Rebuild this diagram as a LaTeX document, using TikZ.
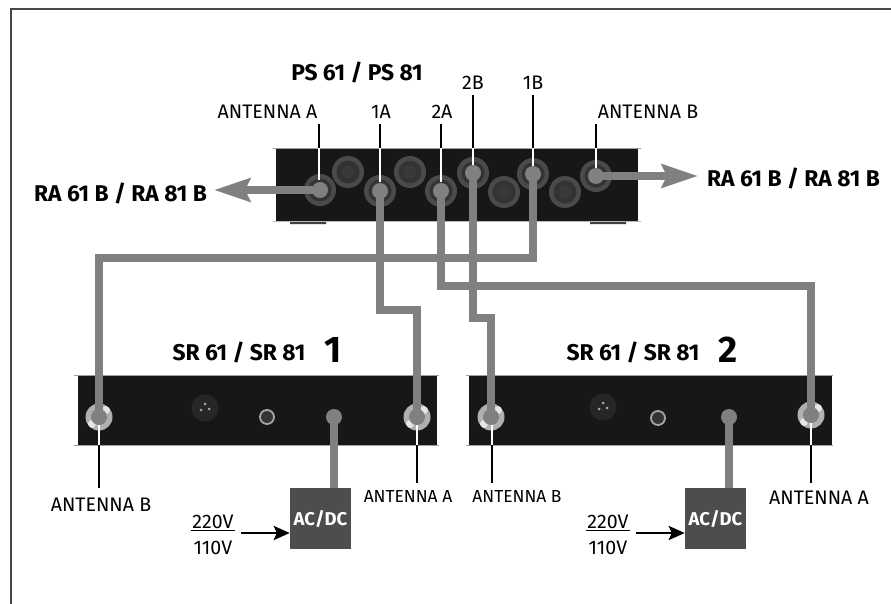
\documentclass[tikz,border=0pt]{standalone}
\usepackage{fontspec}
\setmainfont{Fira Sans}
\usetikzlibrary{arrows.meta}
\definecolor{wire}{HTML}{808080}
\definecolor{photo}{HTML}{171717}
\definecolor{acbox}{HTML}{4D4D4D}
\tikzset{
  x=1pt,y=-1pt,
  lab/.style={inner sep=0pt,font=\fontsize{19.6}{22}\selectfont},
  labs/.style={inner sep=0pt,font=\fontsize{17.4}{20}\selectfont},
  ttl/.style={inner sep=0pt,font=\fontsize{22.8}{25}\selectfont\bfseries},
  num/.style={inner sep=0pt,font=\fontsize{37}{40}\selectfont\bfseries},
  wireline/.style={draw=wire,line width=8.8pt,line join=miter},
  wirearrow/.style={draw=wire,line width=8.8pt,-{Stealth[length=36pt,width=23pt,inset=5pt]}},
  blackl/.style={draw=black,line width=2.8pt},
  whitel/.style={draw=white,line width=2.2pt},
  pad/.style={circle,fill=wire,minimum size=16pt,inner sep=0pt},
  casing/.style={fill=photo},
  edge/.style={draw=gray!75,line width=1pt},
  foot/.style={fill=gray!50!black},
  portouter/.style={circle,fill=gray!62,minimum size=27pt,inner sep=0pt,path picture={\fill[gray!20] ([shift={(-7pt,-7pt)}]path picture bounding box.center) circle (4pt);\fill[gray!20] ([shift={(7pt,7pt)}]path picture bounding box.center) circle (4pt);}},
  bnc/.style={circle,fill=gray!58!black,minimum size=32pt,inner sep=0pt,path picture={\fill[black!80] (path picture bounding box.center) circle (11.5pt);\fill[gray!45!black] (path picture bounding box.center) circle (6.5pt);}},
  xlr/.style={circle,fill=black!85,draw=gray!30!black,line width=1.2pt,minimum size=26pt,inner sep=0pt,path picture={\fill[gray!70] ([shift={(-4pt,-2pt)}]path picture bounding box.center) circle (1.5pt);\fill[gray!70] ([shift={(4pt,-1pt)}]path picture bounding box.center) circle (1.5pt);\fill[gray!70] ([shift={(0pt,4pt)}]path picture bounding box.center) circle (1.5pt);}},
  jack/.style={circle,fill=black!80,draw=gray!70,line width=1.8pt,minimum size=14pt,inner sep=0pt},
  dcpt/.style={inner sep=0pt,minimum size=1pt},
  acdc/.style={fill=acbox,minimum size=61pt,inner sep=0pt,text=white,font=\fontsize{18.5}{20}\selectfont\bfseries},
  pwr/.style={draw=black,line width=2.8pt,-{Stealth[length=16pt,width=14pt,inset=3pt]}},
}
\begin{document}
\begin{tikzpicture}
\useasboundingbox (0,0) rectangle (891,604);
\fill[white] (0,0) rectangle (891,604);
% frame
\draw[black!72,line width=2pt] (11,604) -- (11,9) -- (891,9);

% rear panels
\fill[foot] (290,220) rectangle (326,224) (590,220) rectangle (626,224);
\path[casing] (276,149) rectangle (638,222);
\draw[edge] (273,148.5) -- (641,148.5);
\draw[gray!55,line width=.8pt] (273,221.5) -- (641,221.5);
\path[casing] (78,375) rectangle (437,445);
\draw[edge] (74,375.5) -- (439,375.5) (74,445) -- (439,445);
\path[casing] (469,375) rectangle (832,445);
\draw[edge] (466,375.5) -- (833,375.5) (466,445) -- (833,445);

% PS connectors
\node[bnc] (k1) at (348,172) {};
\node[bnc] (k2) at (410,172) {};
\node[bnc] (k3) at (504,192) {};
\node[bnc] (k4) at (565,192) {};
\node[bnc] (pa) at (320,190) {};
\node[bnc] (p1a) at (380,191) {};
\node[bnc] (p2a) at (441,191) {};
\node[bnc] (p2b) at (473,173) {};
\node[bnc] (p1b) at (533,174) {};
\node[bnc] (pb) at (596,176) {};

% SR 1 connectors
\node[portouter] (r1b) at (99,417) {};
\node[portouter] (r1a) at (417,417) {};
\node[xlr] (x1) at (205,408) {};
\node[jack] (j1) at (267,417) {};
\node[dcpt] (d1) at (334,417) {};
% SR 2 connectors
\node[portouter] (r2b) at (491,417) {};
\node[portouter] (r2a) at (811,415) {};
\node[xlr] (x2) at (603,407) {};
\node[jack] (j2) at (658,418) {};
\node[dcpt] (d2) at (729,417) {};

% AC/DC
\node[acdc] (ac1) at (320.5,518.5) {AC/DC};
\node[acdc] (ac2) at (715.5,518.5) {AC/DC};

% leaders (top)
\coordinate (la) at (319,124); \coordinate (l1a) at (380,124); \coordinate (l2a) at (441,124);
\coordinate (l2b) at (473,95); \coordinate (l1b) at (533,95); \coordinate (lb) at (596,124);
\draw[blackl] (la) -- (319,148); \draw[whitel] (319,148) -- (319,180);
\draw[blackl] (l1a) -- (380,148); \draw[whitel] (380,148) -- (380,182);
\draw[blackl] (l2a) -- (441,148); \draw[whitel] (441,148) -- (441,182);
\draw[blackl] (l2b) -- (473,148); \draw[whitel] (473,148) -- (473,165);
\draw[blackl] (l1b) -- (533,148); \draw[whitel] (533,148) -- (533,166);
\draw[blackl] (lb) -- (596,148); \draw[whitel] (596,148) -- (596,168);

% leaders (bottom)
\coordinate (b1) at (99,488); \coordinate (b2) at (417,483); \coordinate (b3) at (492,483); \coordinate (b4) at (811,483);
\draw[whitel] (99,417) -- (99,445); \draw[blackl] (99,445) -- (b1);
\draw[whitel] (417,417) -- (417,445); \draw[blackl] (417,445) -- (b2);
\draw[whitel] (492,417) -- (492,445); \draw[blackl] (492,445) -- (b3);
\draw[whitel] (811,415) -- (811,445); \draw[blackl] (811,445) -- (b4);

% wires
\draw[wireline] (p1b.center) |- (99,258) -- (r1b.center);
\draw[wireline] (p1a.center) |- (417,310) -- (r1a.center);
\draw[wireline] (p2a.center) |- (811,286) -- (r2a.center);
\draw[wireline] (p2b.center) |- (491,318) -- (r2b.center);
\draw[wireline] (d1.center) -- (d1.center |- ac1.north);
\draw[wireline] (d2.center) -- (d2.center |- ac2.north);
\coordinate (tipl) at (214,190); \coordinate (tipr) at (698,176);
\draw[wirearrow] (pa.center) -- (tipl);
\draw[wirearrow] (pb.center) -- (tipr);
\foreach \p in {pa,p1a,p2a,p2b,p1b,pb,r1b,r1a,d1,r2b,r2a,d2}
  \node[pad] at (\p.center) {};

% power arrows
\coordinate (s1) at (241,533); \coordinate (s2) at (636,533);
\draw[pwr] (s1) -- (ac1.west |- s1);
\draw[pwr] (s2) -- (ac2.west |- s2);

% labels
\node[ttl] (t0) at (357,72) {PS 61 / PS 81};
\node[lab] (ta) at (267.5,112) {ANTENNA A};
\node[lab] (t1a) at (381,112) {1A};
\node[lab] (t2a) at (442,112) {2A};
\node[lab] (t2b) at (473,83) {2B};
\node[lab] (t1b) at (533,83) {1B};
\node[lab] (tb) at (648,112) {ANTENNA B};
\node[ttl] (rl) at (120.5,193) {RA 61 B / RA 81 B};
\node[ttl] (rr) at (793.5,178) {RA 61 B / RA 81 B};
\node[ttl] (s1t) at (239,352) {SR 61 / SR 81};
\node[num] (n1) at (333,350) {1};
\node[ttl] (s2t) at (633,352) {SR 61 / SR 81};
\node[num] (n2) at (728,350) {2};
\node[lab] (u1) at (101,505) {ANTENNA B};
\node[labs] (u2) at (408,497) {ANTENNA A};
\node[labs] (u3) at (517,497) {ANTENNA B};
\node[lab] (u4) at (819,498) {ANTENNA A};
\node[lab] (v1) at (213,522) {220V};
\node[lab] (w1) at (213,548) {110V};
\node[lab] (v2) at (608,522) {220V};
\node[lab] (w2) at (608,548) {110V};
\draw[black,line width=.9pt] (191,530.5) -- (235,530.5) (586,530.5) -- (630,530.5);
\end{tikzpicture}
\end{document}
